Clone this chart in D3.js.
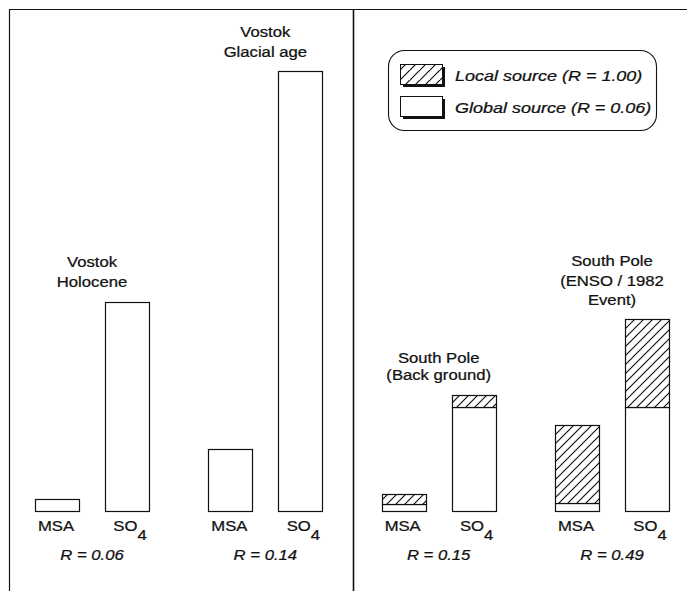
<!DOCTYPE html>
<html>
<head>
<meta charset="utf-8">
<script src="https://cdn.jsdelivr.net/npm/d3@7/dist/d3.min.js"></script>
<style>
  html, body { margin: 0; padding: 0; background: #fff; }
  svg { display: block; }
  text { font-family: "Liberation Sans", Arial, Helvetica, sans-serif; fill: #111; stroke: #111; stroke-width: 0.25; }
</style>
</head>
<body>
<svg id="chart" width="687" height="591"></svg>
<script>
// ---- data (relative units, Vostok glacial SO4 = 100) ----
const groups = ["Vostok Holocene", "Vostok Glacial age", "South Pole Background", "South Pole ENSO"];
const groupTitles = [
  ["Vostok", "Holocene"],
  ["Vostok", "Glacial age"],
  ["South Pole", "(Back ground)"],
  ["South Pole", "(ENSO / 1982", "Event)"]
];
const species = ["MSA", "SO4"];
const globalMSA = [2.7, 14.1, 1.6, 1.8];
const globalSO4 = [47.5, 100, 23.6, 23.6];
const localMSA  = [0, 0, 2.3, 17.7];
const localSO4  = [0, 0, 2.7, 20.0];
const rLabels = ["R = 0.06", "R = 0.14", "R = 0.15", "R = 0.49"];
const legendLabels = ["Local source (R = 1.00)", "Global source (R = 0.06)"];

const svg = d3.select("#chart");
const W = 687, H = 591;

// hatch patterns
const defs = svg.append("defs");
const pat = defs.append("pattern").attr("id", "hatch")
  .attr("patternUnits", "userSpaceOnUse").attr("width", 9).attr("height", 9);
pat.append("rect").attr("width", 9).attr("height", 9).attr("fill", "#fff");
pat.append("path").attr("d", "M-1,10 L10,-1 M-5,5 L5,-5 M4,14 L14,4")
  .attr("stroke", "#111").attr("stroke-width", 1.2);
const pat2 = defs.append("pattern").attr("id", "hatchL")
  .attr("patternUnits", "userSpaceOnUse").attr("width", 10).attr("height", 10);
pat2.append("rect").attr("width", 10).attr("height", 10).attr("fill", "#fff");
pat2.append("path").attr("d", "M-1,11 L11,-1 M-5,5 L5,-5 M6,16 L16,6")
  .attr("stroke", "#111").attr("stroke-width", 1.2);

// frame
svg.append("line").attr("x1", 9).attr("y1", 9.5).attr("x2", W).attr("y2", 9.5)
  .attr("stroke", "#111").attr("stroke-width", 1.2);
svg.append("line").attr("x1", 9.5).attr("y1", 9).attr("x2", 9.5).attr("y2", H)
  .attr("stroke", "#111").attr("stroke-width", 1.2);
svg.append("line").attr("x1", 353.5).attr("y1", 9).attr("x2", 353.5).attr("y2", H)
  .attr("stroke", "#111").attr("stroke-width", 1.6);

// scales
const xg = d3.scalePoint().domain(groups).range([92, 612]);
const xs = d3.scaleBand().domain(species).range([-57, 57]).paddingInner(0.371);
const y = d3.scaleLinear().domain([0, 100]).range([511, 71]);

// build stacked rows
const rows = [];
groups.forEach((g, i) => {
  const gl = [globalMSA[i], globalSO4[i]];
  const lo = [localMSA[i], localSO4[i]];
  species.forEach((s, j) => {
    rows.push({ g, s, kind: "global", y0: 0, y1: gl[j] });
    if (lo[j] > 0) rows.push({ g, s, kind: "local", y0: gl[j], y1: gl[j] + lo[j] });
  });
});

const bars = svg.append("g");
bars.selectAll("rect").data(rows).join("rect")
  .attr("x", d => Math.round(xg(d.g) + xs(d.s)) + 0.5)
  .attr("width", Math.round(xs.bandwidth()))
  .attr("y", d => Math.round(y(d.y1)) + 0.5)
  .attr("height", d => Math.round(y(d.y0)) - Math.round(y(d.y1)))
  .attr("fill", d => d.kind === "local" ? "url(#hatch)" : "#fff")
  .attr("stroke", "#111").attr("stroke-width", 1.2);

const SX = 1.15;
function stretchText(sel, x, yy, txt, size, italic) {
  const t = sel.append("text")
    .attr("transform", `translate(${x},${yy}) scale(${SX},1)`)
    .attr("text-anchor", "middle")
    .attr("font-size", size)
    .attr("font-style", italic ? "italic" : "normal");
  if (txt !== null) t.text(txt);
  return t;
}

const labels = svg.append("g");
groups.forEach((g, i) => {
  species.forEach(s => {
    const cx = xg(g) + xs(s) + xs.bandwidth() / 2;
    if (s === "MSA") {
      stretchText(labels, cx - 1, 531, "MSA", 14.5, false);
    } else {
      const t = stretchText(labels, cx + 3, 531, null, 14.5, false);
      t.append("tspan").text("SO");
      t.append("tspan").attr("dy", 9).text("4");
    }
  });
  stretchText(labels, xg(g), 560, rLabels[i], 14.5, true);
  const lines = groupTitles[i];
  const lastBase = [287, 57, 380, 305][i];
  const lh = [20, 20, 17, 19.5][i];
  lines.forEach((ln, k) => {
    stretchText(labels, xg(g), lastBase - (lines.length - 1 - k) * lh, ln, 14.5, false);
  });
});

// legend
const lg = svg.append("g");
lg.append("rect").attr("x", 388.5).attr("y", 50.5).attr("width", 268).attr("height", 80)
  .attr("rx", 16).attr("ry", 16)
  .attr("fill", "#fff").attr("stroke", "#111").attr("stroke-width", 1.1);
const sw = [{ y: 64, fill: "url(#hatchL)" }, { y: 96, fill: "#fff" }];
sw.forEach((d, k) => {
  lg.append("rect").attr("x", 403).attr("y", d.y + 3).attr("width", 42).attr("height", 20)
    .attr("fill", "#111");
  lg.append("rect").attr("x", 400.5).attr("y", d.y + 0.5).attr("width", 42).attr("height", 20)
    .attr("fill", d.fill).attr("stroke", "#111").attr("stroke-width", 1);
  lg.append("text")
    .attr("transform", `translate(455,${d.y + 17}) scale(1.2,1)`)
    .attr("font-size", 15).attr("font-style", "italic")
    .text(legendLabels[k]);
});
</script>
</body>
</html>
